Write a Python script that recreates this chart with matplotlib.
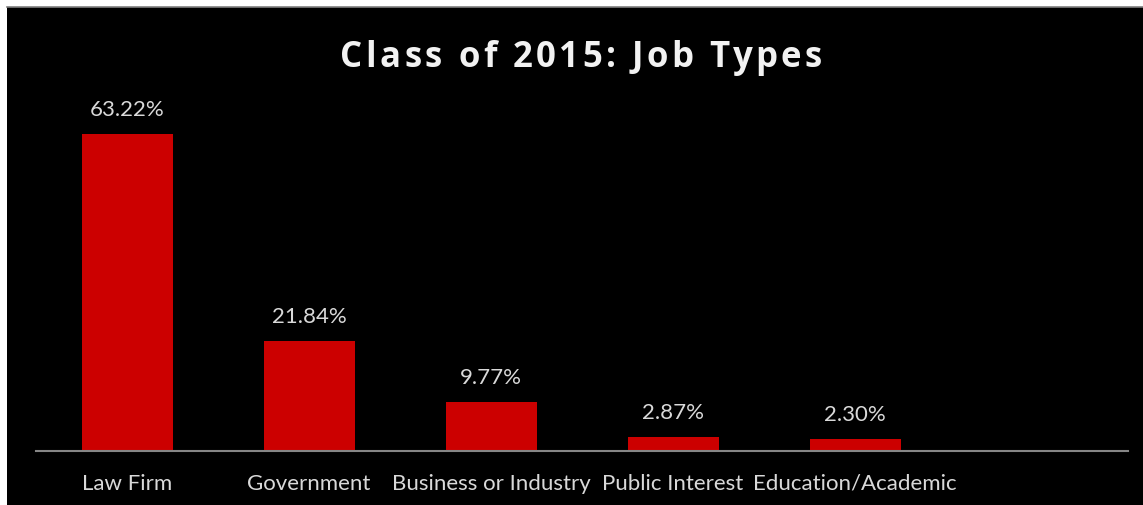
import matplotlib
matplotlib.use("Agg")
import matplotlib.pyplot as plt
from matplotlib.patches import Rectangle
from matplotlib.lines import Line2D

categories = ["Law Firm", "Government", "Business or Industry", "Public Interest", "Education/Academic"]
values = [63.22, 21.84, 9.77, 2.87, 2.30]
value_labels = ["63.22%", "21.84%", "9.77%", "2.87%", "2.30%"]
title = "Class of 2015: Job Types"

W, H = 1143, 506
fig = plt.figure(figsize=(W / 100, H / 100), dpi=100)
fig.patch.set_facecolor("white")

# black panel
fig.add_artist(Rectangle((7 / W, -0.01), 1.02 - 7 / W, 1.01 - 8 / H, transform=fig.transFigure,
                         facecolor="black", edgecolor="none", zorder=0))
fig.add_artist(Line2D([7 / W, 1.01], [1 - 8 / H, 1 - 8 / H], transform=fig.transFigure,
                      color="#7f7f7f", lw=1.2, zorder=1))

ax_left, ax_right = 36, 1128
ax_bottom, ax_top = 452, 101
ax = fig.add_axes([ax_left / W, 1 - ax_bottom / H, (ax_right - ax_left) / W, (ax_bottom - ax_top) / H])
ax.set_facecolor("none")

x = list(range(len(categories)))
ax.bar(x, values, width=0.5, color="#cc0000", zorder=2)
ax.set_xlim(-0.5, 5.5)
ax.set_ylim(0, 70)

for xi, v, lab in zip(x, values, value_labels):
    ax.annotate(lab, (xi, v), xytext=(0, 19 * 0.72), textcoords="offset points",
                ha="center", va="baseline", color="#d9d9d9", fontsize=16, family="Lato")

ax.set_xticks(x)
ax.set_xticklabels(categories, color="#d9d9d9", fontsize=16, family="Lato")
for lbl in ax.get_xticklabels():
    lbl.set_va("baseline")
ax.tick_params(axis="x", length=0, pad=38 * 0.72)
ax.set_yticks([])
for s in ["top", "right", "left"]:
    ax.spines[s].set_visible(False)
ax.spines["bottom"].set_color("#868686")
ax.spines["bottom"].set_linewidth(1.5)

# title with letter spacing
renderer = fig.canvas.get_renderer()
tprops = dict(color="#f2f2f2", fontsize=25, fontweight="bold", family="Open Sans")

def text_width(s):
    t = fig.text(0, 0, s + "|", **tprops)
    w1 = t.get_window_extent(renderer).width
    t.remove()
    t = fig.text(0, 0, "|", **tprops)
    w2 = t.get_window_extent(renderer).width
    t.remove()
    return w1 - w2

target_w = 482
natural = text_width(title)
tracking = (target_w - natural) / (len(title) - 1)
x0 = 581 - target_w / 2
baseline = 67
for i, ch in enumerate(title):
    if ch == " ":
        continue
    px = x0 + text_width(title[:i]) + i * tracking
    fig.text(px / W, 1 - baseline / H, ch, ha="left", va="baseline", **tprops)

fig.savefig("out.png", dpi=100, facecolor=fig.get_facecolor())
